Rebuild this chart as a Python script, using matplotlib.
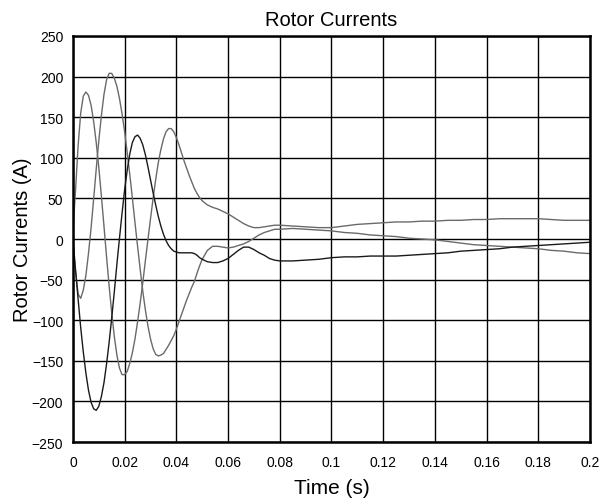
import numpy as np
import matplotlib
matplotlib.use('Agg')
from matplotlib import pyplot as plt

# time axis in ms (dense at start, coarser later)
t_ms = list(range(0, 51)) + list(range(52, 81, 2)) + list(range(85, 201, 5))

# phase a (gray)
ia = [10, 60, 115, 155, 176, 181, 177, 165, 145, 119, 88, 53, 16, -22, -58, -91, -120, -143, -159, -167,
      -167, -163, -153, -140, -123, -102, -79, -54, -27, -1, 25, 50, 73, 94, 110, 123, 132, 136, 136, 132,
      125, 116, 106, 96, 87, 78, 70, 62, 56, 51, 47,
      42, 39, 37, 34, 31, 27, 23, 19, 16, 14, 14, 15, 16, 17, 17,
      16, 15, 14, 14, 16, 18, 19, 20, 21, 21, 22, 22, 23, 23, 24, 24, 25, 25, 25, 25, 24, 23, 23, 23]

# phase b (dark)
ib = [0, -38, -74, -109, -139, -165, -186, -201, -209, -211, -206, -194, -177, -154, -127, -97, -65, -31, 1, 32,
      61, 85, 105, 119, 126, 128, 124, 116, 104, 89, 73, 57, 42, 28, 16, 6, -2, -8, -12, -15,
      -16, -17, -17, -17, -17, -17, -17, -18, -20, -23, -25,
      -28, -29, -29, -27, -24, -19, -14, -10, -10, -13, -17, -20, -24, -26, -27,
      -27, -26, -25, -23, -22, -22, -21, -21, -21, -20, -19, -18, -17, -15, -14, -13, -12, -10, -9, -8, -7, -6, -5, -4]

# phase c (gray)
ic = [-5, -40, -68, -73, -63, -45, -18, 13, 49, 86, 121, 152, 178, 196, 204, 204, 198, 188, 173, 154,
      132, 106, 79, 50, 20, -9, -37, -64, -87, -107, -123, -135, -142, -144, -143, -141, -136, -131, -125, -119,
      -111, -102, -93, -84, -75, -67, -59, -52, -42, -33, -25,
      -14, -9, -9, -10, -11, -10, -8, -6, -3, 1, 5, 8, 10, 12, 12,
      13, 12, 11, 10, 8, 7, 5, 4, 3, 1, 0, -1, -3, -5, -7, -8, -9, -10, -11, -12, -14, -15, -17, -18]

xticks = [0, 0.02, 0.04, 0.06, 0.08, 0.1, 0.12, 0.14, 0.16, 0.18, 0.2]
xlabels = ['0', '0.02', '0.04', '0.06', '0.08', '0.1', '0.12', '0.14', '0.16', '0.18', '0.2']
yticks = list(range(-250, 251, 50))

plt.rcParams['font.family'] = ['Liberation Sans', 'DejaVu Sans']

t = np.array(t_ms) / 1000.0

fig = plt.figure(figsize=(6.13, 5.02), dpi=100)
ax = fig.add_axes([0.119, 0.1175, 0.8435, 0.8088])

ax.plot(t, ia, color='#6a6a6a', lw=1.0)
ax.plot(t, ic, color='#6a6a6a', lw=1.0)
ax.plot(t, ib, color='#1a1a1a', lw=1.0)

ax.set_xlim(0, 0.2)
ax.set_ylim(-250, 250)
ax.set_xticks(xticks)
ax.set_xticklabels(xlabels)
ax.set_yticks(yticks)
ax.grid(True, color='black', lw=1.0, ls='-')
ax.tick_params(direction='in', length=0, labelsize=10)
ax.tick_params(axis='x', pad=9)
ax.tick_params(axis='y', pad=7)
for s in ax.spines.values():
    s.set_linewidth(1.8)

ax.set_title('Rotor Currents', fontsize=14.5, pad=8)
ax.set_xlabel('Time (s)', fontsize=15, labelpad=7)
ax.set_ylabel('Rotor Currents (A)', fontsize=14.5, labelpad=0)

fig.savefig('out.png', dpi=100)
